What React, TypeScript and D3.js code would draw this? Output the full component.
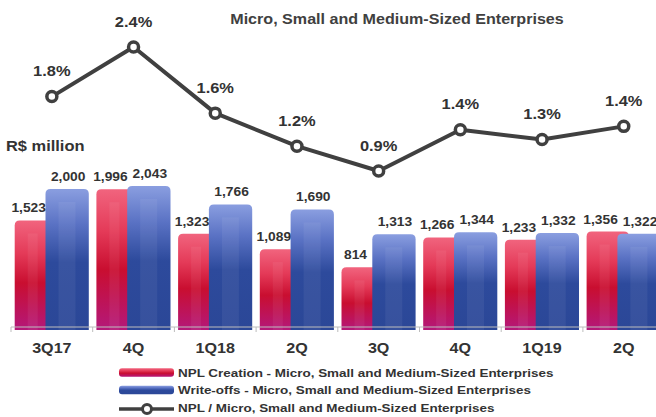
import React from "react";
import * as d3 from "d3";

const categories = ["3Q17", "4Q", "1Q18", "2Q", "3Q", "4Q", "1Q19", "2Q"];
const nplCreation = [1523, 1996, 1323, 1089, 814, 1266, 1233, 1356];
const writeOffs = [2000, 2043, 1766, 1690, 1313, 1344, 1332, 1322];
const nplRatio = [1.8, 2.4, 1.6, 1.2, 0.9, 1.4, 1.28, 1.44];
const legendLabels = [
  "NPL Creation - Micro, Small and Medium-Sized Enterprises",
  "Write-offs - Micro, Small and Medium-Sized Enterprises",
  "NPL / Micro, Small and Medium-Sized Enterprises",
];
const title = "Micro, Small and Medium-Sized Enterprises";
const unitLabel = "R$ million";

const W = 656;
const H = 417;
const FONT = "'Liberation Sans', Arial, Helvetica, sans-serif";
const SX = 1.15;
const TXT = "#333333";

function topRounded(x: number, y: number, w: number, h: number, r: number) {
  const rr = Math.min(r, w / 2, h);
  return `M${x},${y + h}V${y + rr}Q${x},${y} ${x + rr},${y}H${x + w - rr}Q${x + w},${y} ${x + w},${y + rr}V${y + h}Z`;
}

function T(props: {
  x: number;
  y: number;
  size: number;
  anchor?: string;
  fill?: string;
  children: React.ReactNode;
}) {
  return (
    <text
      transform={`translate(${props.x},${props.y}) scale(${SX},1)`}
      textAnchor={props.anchor || "middle"}
      fontFamily={FONT}
      fontWeight="bold"
      fontSize={props.size}
      fill={props.fill || TXT}
    >
      {props.children}
    </text>
  );
}

export default function App() {
  const idx = categories.map((_, i) => i);
  const x = d3
    .scaleBand<number>()
    .domain(idx)
    .range([11, 11 + 8 * 81.7])
    .paddingInner(0)
    .paddingOuter(0);
  const bw = x.bandwidth();
  const y = d3.scaleLinear().domain([0, 2000]).range([321.2, 188.9]);
  const yp = d3.scaleLinear().domain([0.9, 2.4]).range([171, 47]);
  const bottom = 330;
  const axisY = 327;
  const redOff = 3.7;
  const redW = 42.3;
  const blueOff = 34.5;
  const blueW = 43.3;
  const fmt = d3.format(",");
  const pfmt = d3.format(".1f");

  const line = d3
    .line<number>()
    .x((_, i) => (x(i) as number) + bw / 2)
    .y((d) => yp(d));

  return (
    <svg
      width={W}
      height={H}
      style={{ position: "absolute", left: 0, top: 0, background: "#fff" }}
    >
      <defs>
        <linearGradient id="gRed" x1="0" y1="0" x2="0" y2="1">
          <stop offset="0" stopColor="#f1647e" />
          <stop offset="0.3" stopColor="#e43a58" />
          <stop offset="0.57" stopColor="#c90e30" />
          <stop offset="1" stopColor="#b4187a" />
        </linearGradient>
        <linearGradient id="gBlue" x1="0" y1="0" x2="0" y2="1">
          <stop offset="0" stopColor="#8a9ee0" />
          <stop offset="0.25" stopColor="#5a72c4" />
          <stop offset="0.52" stopColor="#2d4a9c" />
          <stop offset="1" stopColor="#2b4797" />
        </linearGradient>
      </defs>

      <T x={397} y={23.5} size={14} fill="#404040">
        {title}
      </T>
      <T x={6} y={151} size={14.3} anchor="start">
        {unitLabel}
      </T>

      {idx.map((i) => {
        const bx = x(i) as number;
        const rTop = y(nplCreation[i]);
        const bTop = y(writeOffs[i]);
        return (
          <g key={i}>
            <path
              d={topRounded(bx + redOff, rTop, redW, bottom - rTop, 5)}
              fill="url(#gRed)"
            />
            <rect
              x={bx + redOff + 13}
              y={rTop + 13}
              width={10}
              height={bottom - rTop - 13}
              fill="#fff"
              opacity={0.06}
            />
            <path
              d={topRounded(bx + blueOff, bTop, blueW, bottom - bTop, 5)}
              fill="url(#gBlue)"
            />
            <rect
              x={bx + blueOff + 13}
              y={bTop + 13}
              width={17}
              height={bottom - bTop - 13}
              fill="#fff"
              opacity={0.06}
            />
          </g>
        );
      })}

      <line x1={11} x2={W} y1={axisY} y2={axisY} stroke="#bdbdbd" strokeWidth={1} />
      {d3.range(9).map((k) => {
        const tx = 11 + k * bw;
        return (
          <line key={k} x1={tx} x2={tx} y1={axisY} y2={axisY + 5} stroke="#bdbdbd" strokeWidth={1} />
        );
      })}

      {idx.map((i) => {
        const bx = x(i) as number;
        return (
          <g key={"l" + i}>
            <T x={bx + redOff + 14} y={y(nplCreation[i]) - 8} size={12}>
              {fmt(nplCreation[i])}
            </T>
            <T x={bx + blueOff + blueW / 2 + 1} y={y(writeOffs[i]) - 8} size={12}>
              {fmt(writeOffs[i])}
            </T>
            <T x={bx + bw / 2} y={352.5} size={14}>
              {categories[i]}
            </T>
          </g>
        );
      })}

      <path d={line(nplRatio) || ""} fill="none" stroke="#404040" strokeWidth={4} strokeLinejoin="round" />
      {nplRatio.map((v, i) => {
        const cx = (x(i) as number) + bw / 2;
        return (
          <g key={"p" + i}>
            <circle cx={cx} cy={yp(v)} r={5} fill="#fff" stroke="#404040" strokeWidth={3.5} />
            <T x={cx} y={yp(v) - 20.5} size={14.3}>
              {pfmt(v) + "%"}
            </T>
          </g>
        );
      })}

      <g>
        <rect x={119} y={368.3} width={55} height={8.5} rx={3} fill="url(#gRed)" />
        <T x={178} y={377} size={11.7} anchor="start">
          {legendLabels[0]}
        </T>
        <rect x={119} y={385.8} width={55} height={8.5} rx={3} fill="url(#gBlue)" />
        <T x={178} y={394.4} size={11.7} anchor="start">
          {legendLabels[1]}
        </T>
        <line x1={119} x2={174} y1={409} y2={409} stroke="#404040" strokeWidth={3.5} />
        <circle cx={147} cy={409} r={4.5} fill="#fff" stroke="#404040" strokeWidth={3} />
        <T x={178} y={412} size={11.7} anchor="start">
          {legendLabels[2]}
        </T>
      </g>
    </svg>
  );
}
